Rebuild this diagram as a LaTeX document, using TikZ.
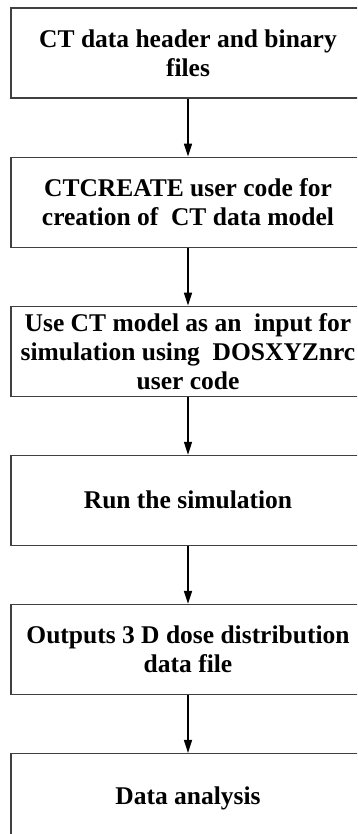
\documentclass[tikz,border=0pt]{standalone}
\usepackage{fontspec}
\setmainfont{Liberation Serif}
\usetikzlibrary{positioning}
\usetikzlibrary{arrows.meta}

\begin{document}
\begin{tikzpicture}
  [x=1pt,y=1pt,node distance=58pt,
   box/.style={draw=black!75,line width=1.1pt,rectangle,minimum width=354pt,
               minimum height=90pt,inner sep=2pt,align=center,
               font=\fontsize{25.5}{29}\selectfont\bfseries},
   flow/.style={line width=1.6pt,-{Triangle[length=13pt,width=8pt]}}]
  \clip (0,0) rectangle (357,-834);
  \node[box] (hdr) at (188,-53) {CT data header and binary\\files};
  \node[box,below=of hdr] (ctc) {CTCREATE user code for\\creation of\ \ CT data model};
  \node[box,below=of ctc] (inp) {Use CT model as an\ \ input for\\simulation using\ \ DOSXYZnrc\\user code};
  \node[box,below=of inp] (run) {Run the simulation};
  \node[box,below=of run] (out) {Outputs 3 D dose distribution\\data file};
  \node[box,below=of out] (ana) {Data analysis};

  \foreach \from/\to in {hdr/ctc,ctc/inp,inp/run,run/out,out/ana}
    \draw[flow] (\from) -- (\to);
\end{tikzpicture}
\end{document}
